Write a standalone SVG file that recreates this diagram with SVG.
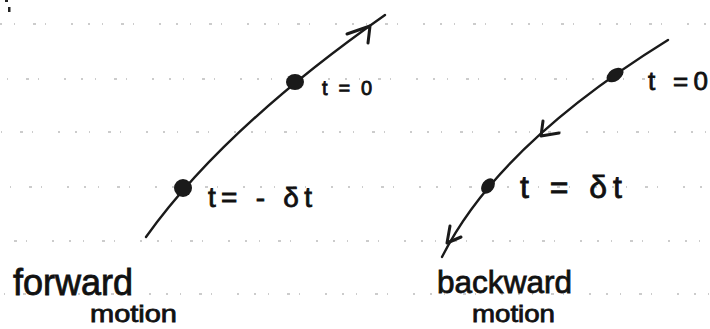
<svg xmlns="http://www.w3.org/2000/svg" width="710" height="329" viewBox="0 0 710 329">
<style>
.rule{stroke:#999;stroke-width:1.1;fill:none;stroke-dasharray:2 12 1 18 3 9 1 25 2 15}
.curve{stroke:#1a1a1a;stroke-width:2.4;fill:none;stroke-linecap:round}
.barb{stroke:#1a1a1a;stroke-width:3;fill:none;stroke-linecap:round;stroke-linejoin:round}
.dot{fill:#1a1a1a}
.lbl{font-family:"Liberation Sans","DejaVu Sans",sans-serif;fill:#111;stroke:#111;stroke-width:0.8}
</style>
<rect width="710" height="329" fill="#fff"/>
<g id="rules">
<line class="rule" x1="0" y1="24" x2="710" y2="24"/>
<line class="rule" x1="0" y1="79" x2="710" y2="79" style="stroke-dashoffset:7"/>
<line class="rule" x1="0" y1="132" x2="710" y2="132" style="stroke-dashoffset:13"/>
<line class="rule" x1="0" y1="187" x2="710" y2="187" style="stroke-dashoffset:4"/>
<line class="rule" x1="0" y1="241" x2="710" y2="241" style="stroke-dashoffset:19"/>
<line class="rule" x1="0" y1="294" x2="710" y2="294" style="stroke-dashoffset:10"/>
</g>
<g id="corner-mark" fill="#222">
<rect x="5" y="0" width="3" height="2"/>
<rect x="8" y="7" width="2.5" height="5"/>
</g>
<g id="connectors">
<path id="forward-path" class="curve" d="M146,237 Q224,128 385,15"/>
<path id="forward-arrow" class="barb" d="M347,34 L370,26 M368,43 L370,26"/>
<path id="backward-path" class="curve" d="M668,40 Q497.7,145.6 442,257"/>
<path id="backward-arrow-1" class="barb" d="M543,121 L541,136 L559,133"/>
<path id="backward-arrow-2" class="barb" d="M450,226 L447,243 L461,237"/>
</g>
<g id="f-t0">
<ellipse class="dot" cx="295" cy="82" rx="9" ry="8"/>
<text class="lbl" x="322" y="95" font-size="20" textLength="50" lengthAdjust="spacing">t=0</text>
</g>
<g id="f-tminus">
<circle class="dot" cx="183" cy="188" r="9"/>
<text class="lbl" x="208" y="207" font-size="28" textLength="104" lengthAdjust="spacing">t= - δt</text>
</g>
<g id="b-t0">
<ellipse class="dot" cx="615" cy="75" rx="9.5" ry="6" transform="rotate(-35 615 75)"/>
<text class="lbl" x="648" y="90" font-size="26" textLength="60" lengthAdjust="spacing">t =0</text>
</g>
<g id="b-tdelta">
<ellipse class="dot" cx="488" cy="186" rx="6" ry="8.5" transform="rotate(35 488 186)"/>
<text class="lbl" x="520" y="198" font-size="32" textLength="102" lengthAdjust="spacing">t = δt</text>
</g>
<g id="forward-label">
<text class="lbl" x="13" y="295" font-size="36" textLength="120" lengthAdjust="spacingAndGlyphs">forward</text>
<text class="lbl" x="90" y="322" font-size="24" textLength="87" lengthAdjust="spacingAndGlyphs">motion</text>
</g>
<g id="backward-label">
<text class="lbl" x="437" y="293" font-size="32" textLength="135" lengthAdjust="spacingAndGlyphs">backward</text>
<text class="lbl" x="472" y="322" font-size="24" textLength="83" lengthAdjust="spacingAndGlyphs">motion</text>
</g>
</svg>
